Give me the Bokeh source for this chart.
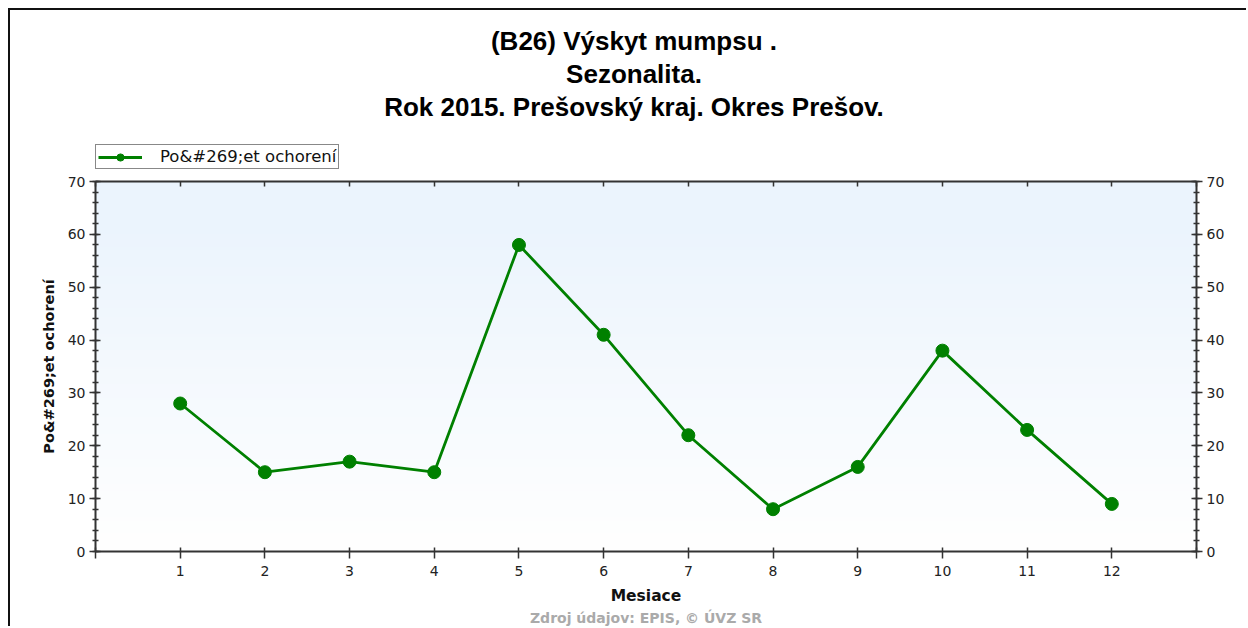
import numpy as np
from bokeh.plotting import figure
from bokeh.layouts import column
from bokeh.models import (LinearAxis, Range1d, FixedTicker, SingleIntervalTicker,
                          Title, Legend, LegendItem, ColumnDataSource)
from bokeh.embed import file_html
from bokeh.resources import INLINE

# ---- data ----
months = [1, 2, 3, 4, 5, 6, 7, 8, 9, 10, 11, 12]
cases = [28, 15, 17, 15, 58, 41, 22, 8, 16, 38, 23, 9]
series_name = "Po&#269;et ochorení"
title_lines = ["(B26) Výskyt mumpsu .", "Sezonalita.", "Rok 2015. Prešovský kraj. Okres Prešov."]
x_label = "Mesiace"
y_label = "Po&#269;et ochorení"
footer = "Zdroj údajov: EPIS, © ÚVZ SR"

TFONT = "Liberation Sans"
FONT = "DejaVu Sans"
GREEN = "#008000"
AX = "#333333"
LINE_W = 2.8
MARK = 13

src = ColumnDataSource(dict(x=months, y=cases))

# ---------------- header: titles + legend ----------------
head = figure(width=1236, height=160, output_backend="svg", toolbar_location=None,
              x_range=Range1d(-1, 0), y_range=Range1d(-1, 0),
              x_axis_type=None, y_axis_type=None,
              min_border_left=85, min_border_right=74, min_border_top=112, min_border_bottom=0,
              background_fill_color="white", border_fill_color="white")
head.outline_line_color = None
head.grid.visible = False
# same series drawn in the header only as legend sample (its points fall outside this view)
pl = head.line("x", "y", source=src, line_color=GREEN, line_width=LINE_W)
ps = head.scatter("x", "y", source=src, size=MARK, fill_color=GREEN, line_color=GREEN)
legend = Legend(items=[LegendItem(label=series_name, renderers=[pl, ps])],
                location=(0, 1), orientation="horizontal",
                label_text_font=FONT, label_text_font_size="16.5px", label_text_color="#111111",
                border_line_color="#111111", border_line_width=1.5,
                background_fill_color="white", background_fill_alpha=1,
                glyph_width=44, glyph_height=18, label_height=18,
                padding=2, margin=0, spacing=0, label_standoff=18)
head.add_layout(legend, "center")
for line in reversed(title_lines):
    head.add_layout(Title(text=line, align="center", text_font=TFONT, text_font_size="26px",
                          text_font_style="bold", text_color="#000000", standoff=1), "above")

# ---------------- main chart ----------------
p = figure(frame_width=1101, frame_height=370, output_backend="svg", toolbar_location=None,
           x_range=Range1d(0, 13), y_range=Range1d(0, 70),
           x_axis_type=None, y_axis_type=None,
           min_border_left=85, min_border_right=50, min_border_top=11, min_border_bottom=75,
           background_fill_color="white", border_fill_color="white")
p.outline_line_color = None
p.grid.visible = False

# gradient background of the plot area
n = 200
top = np.array([235, 244, 253])
bot = np.array([255, 255, 255])
img = np.empty((n, 1), dtype=np.uint32)
view = img.view(dtype=np.uint8).reshape((n, 1, 4))
for i in range(n):
    t = min(1.0, i / (n - 1) * 1.1)
    c = bot + (top - bot) * t
    view[i, 0, 0] = int(c[0]); view[i, 0, 1] = int(c[1]); view[i, 0, 2] = int(c[2]); view[i, 0, 3] = 255
p.image_rgba(image=[img], x=0, y=0, dw=13, dh=70, level="image")

p.line("x", "y", source=src, line_color=GREEN, line_width=LINE_W)
p.scatter("x", "y", source=src, size=MARK, fill_color=GREEN, line_color=GREEN)

xticks = list(range(0, 14))
overrides = {0: "", 13: ""}

def style_axis(ax):
    ax.axis_line_color = AX
    ax.axis_line_width = 2
    ax.major_tick_line_color = AX
    ax.minor_tick_line_color = AX
    ax.major_tick_line_width = 1.5
    ax.minor_tick_line_width = 1.5
    ax.major_label_text_font = FONT
    ax.major_label_text_font_size = "14px"
    ax.major_label_text_color = "#222222"
    ax.axis_label_text_font = FONT
    ax.axis_label_text_font_style = "bold"
    ax.axis_label_text_color = "#111111"

xb = LinearAxis(ticker=FixedTicker(ticks=xticks), axis_label=x_label,
                major_label_overrides=overrides)
style_axis(xb)
xb.axis_label_text_font_size = "15.5px"
xb.major_tick_in = 4
xb.major_tick_out = 7
xb.major_label_standoff = 7
xb.axis_label_standoff = 8
p.add_layout(xb, "below")

xt = LinearAxis(ticker=FixedTicker(ticks=xticks))
style_axis(xt)
xt.major_tick_in = 5
xt.major_tick_out = 0
xt.major_label_text_alpha = 0
xt.major_label_text_font_size = "1px"
xt.major_label_standoff = 0
p.add_layout(xt, "above")

yl = LinearAxis(ticker=SingleIntervalTicker(interval=10, num_minor_ticks=5), axis_label=y_label)
style_axis(yl)
yl.axis_label_text_font_size = "14.5px"
yl.major_tick_in = 5
yl.major_tick_out = 6
yl.minor_tick_in = 3
yl.minor_tick_out = 3
yl.major_label_standoff = 4
yl.axis_label_standoff = 8
p.add_layout(yl, "left")

yr = LinearAxis(ticker=SingleIntervalTicker(interval=10, num_minor_ticks=5))
style_axis(yr)
yr.major_tick_in = 5
yr.major_tick_out = 6
yr.minor_tick_in = 3
yr.minor_tick_out = 3
yr.major_label_standoff = 4
p.add_layout(yr, "right")

p.add_layout(Title(text=footer, align="center", text_font=FONT, text_font_size="14px",
                   text_font_style="bold", text_color="#aaaaaa", standoff=0), "below")

page = column(head, p, spacing=0,
              styles={"margin-left": "8px", "margin-top": "8px",
                      "border-top": "2px solid #111", "border-left": "2px solid #111"})

open("out.html", "w").write(file_html(page, INLINE))
